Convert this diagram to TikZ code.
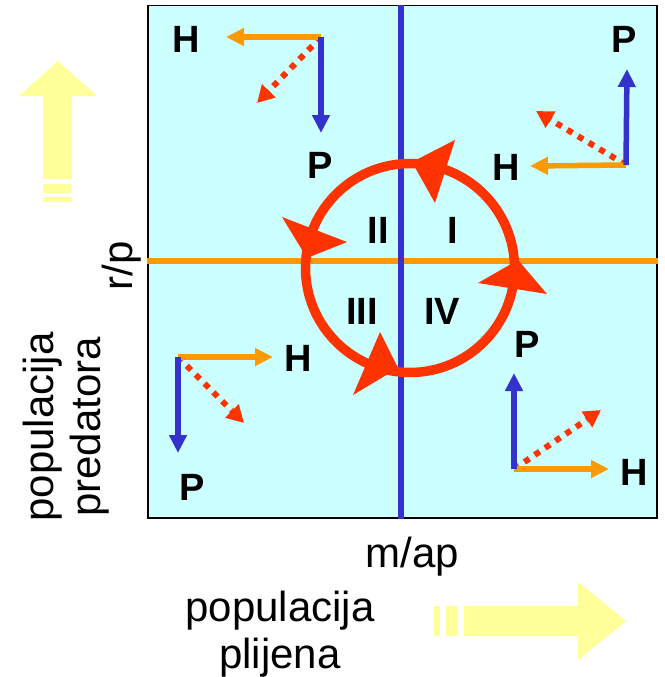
\documentclass[tikz,border=0pt]{standalone}
\usepackage{fontspec}
\setmainfont{Liberation Sans}
\usetikzlibrary{arrows.meta}
\definecolor{bgc}{HTML}{CCFFFF}
\definecolor{bluec}{HTML}{3333CC}
\definecolor{orangec}{HTML}{FF9900}
\definecolor{redc}{HTML}{FF3300}
\definecolor{yellowc}{HTML}{FFFF99}
\begin{document}
\begin{tikzpicture}[x=1pt,y=-1pt,
  lbl/.style={font=\fontsize{38}{40}\selectfont\bfseries, inner sep=0pt},
  axlbl/.style={font=\fontsize{42}{47}\selectfont, inner sep=0pt, align=center},
  vecH/.style={draw=orangec, line width=5.5pt, -{Triangle[length=18pt,width=17pt]}},
  vecP/.style={draw=bluec, line width=5.5pt, -{Triangle[length=18pt,width=17pt]}},
  vecR/.style={draw=redc, line width=6pt, dash pattern=on 6pt off 6.5pt, -{Triangle[length=17pt,width=18pt]}},
  cyc/.style={fill=redc}]
\useasboundingbox (0,0) rectangle (664,677);
% yellow arrows
\fill[yellowc] (58,61) -- (97,96) -- (72,96) -- (72,179) -- (43,179) -- (43,96) -- (19,96) -- cycle;
\fill[yellowc] (43,184) rectangle (72,193);
\fill[yellowc] (43,197) rectangle (72,202);
\fill[yellowc] (626,621) -- (578,582) -- (578,606) -- (464,606) -- (464,636) -- (578,636) -- (578,660) -- cycle;
\fill[yellowc] (446,606) rectangle (458,636);
\fill[yellowc] (434,606) rectangle (440,636);
% frame
\node[draw=black, line width=1.5pt, fill=bgc, minimum width=509pt, minimum height=512pt, inner sep=0pt, anchor=north west] (box) at (147,5) {};
% axes
\draw[orangec, line width=5.5pt] (box.west |- 0,261) -- (box.east |- 0,261);
\draw[bluec, line width=5.5pt] (box.north -| 401,0) -- (box.south -| 401,0);
% cycle
\draw[redc, line width=9.5pt] (410,268) circle[radius=104.5];
\fill[cyc] (455,140) -- (412,162) -- (435,203) -- cycle;
\fill[cyc] (282,217) -- (307,258) -- (347,242) -- cycle;
\fill[cyc] (380,332) -- (398,368) -- (353,395) -- cycle;
\fill[cyc] (478,283) -- (518,260) -- (547,294) -- cycle;
% quadrant labels
\node[lbl] (q1) at (453,230) {I};
\node[lbl] (q2) at (378,230) {II};
\node[lbl] (q3) at (362,311) {III};
\node[lbl] (q4) at (442,311) {IV};
% vectors top-left
\coordinate (o1) at (321,37);
\coordinate (h1t) at (226,37);
\coordinate (p1t) at (321,133);
\coordinate (r1t) at (257,103);
\draw[vecR] (o1) -- (r1t);
\draw[vecH] (o1) -- (h1t);
\draw[vecP] (o1) -- (p1t);
\node[lbl] (H1) at (186,39) {H};
\node[lbl] (P1) at (320,165) {P};
% top-right
\coordinate (o2) at (626,165);
\coordinate (h2t) at (530,166);
\coordinate (p2t) at (627,69);
\coordinate (r2t) at (536,111);
\draw[vecR] (o2) -- (r2t);
\draw[vecH] (o2) -- (h2t);
\draw[vecP] (o2) -- (p2t);
\node[lbl] (H2) at (506,167) {H};
\node[lbl] (P2) at (624,39) {P};
% bottom-left
\coordinate (o3) at (178,357);
\coordinate (h3t) at (273,357);
\coordinate (p3t) at (178,453);
\coordinate (r3t) at (244,423);
\draw[vecR] (o3) -- (r3t);
\draw[vecH] (o3) -- (h3t);
\draw[vecP] (o3) -- (p3t);
\node[lbl] (H3) at (298,358) {H};
\node[lbl] (P3) at (192,487) {P};
% bottom-right
\coordinate (o4) at (514,469);
\coordinate (h4t) at (609,469);
\coordinate (p4t) at (514,373);
\coordinate (r4t) at (601,410);
\draw[vecR] (o4) -- (r4t);
\draw[vecH] (o4) -- (h4t);
\draw[vecP] (o4) -- (p4t);
\node[lbl] (H4) at (634,472) {H};
\node[lbl] (P4) at (527,344) {P};
% axis labels
\node[axlbl, anchor=base] (map) at (412.5,567) {m/ap};
\node[axlbl] (plijen) at (280,634) {populacija\\plijena};
\node[axlbl, rotate=90, anchor=base] (rp) at (132,266) {r/p};
\node[axlbl, rotate=90] (pred) at (66,427) {populacija\\predatora};
\end{tikzpicture}
\end{document}
